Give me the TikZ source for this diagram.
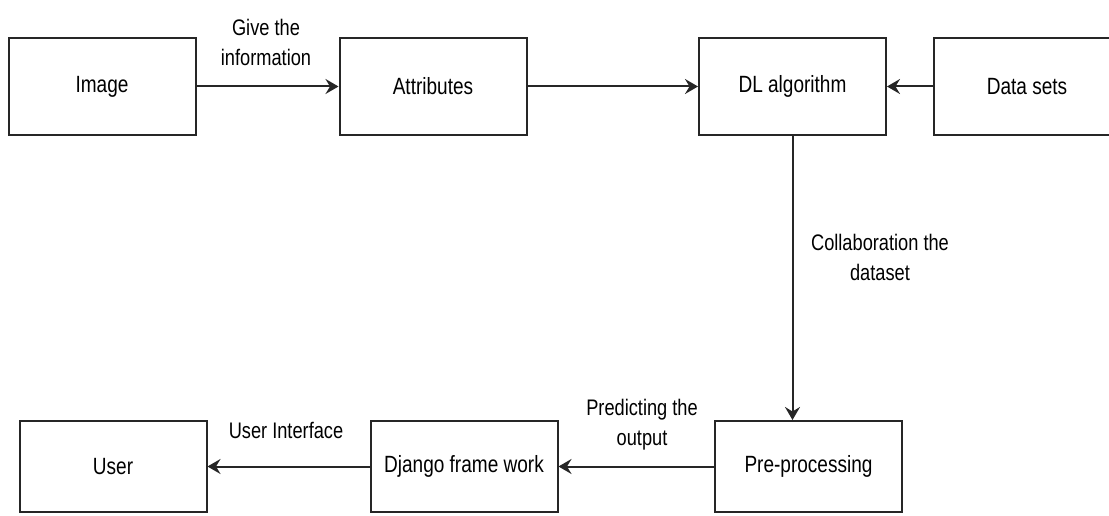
\documentclass[tikz,border=0pt]{standalone}
\usepackage{fontspec}
\setmainfont{Liberation Sans}[FakeStretch=0.81]
\usetikzlibrary{arrows.meta}

\begin{document}
\begin{tikzpicture}[x=1pt, y=-1pt,
    block/.style={draw=black!85, line width=2pt, fill=white, inner sep=0pt,
        minimum width=187pt, minimum height=97pt, font=\fontsize{23.5}{30}\selectfont},
    lowblock/.style={block, minimum height=91pt},
    flow/.style={draw=black!85, line width=2pt,
        -{Stealth[length=13pt, width=15pt, inset=4.5pt]}},
    lbl/.style={align=center, inner sep=0pt, font=\fontsize{22.5}{30}\selectfont}]
\useasboundingbox (0,0) rectangle (1109,516);
\clip (0,0) rectangle (1109,516);

% Top row
\node[block] (image) at (102,86.5) {Image};
\node[block] (attrib) at (433,86.5) {Attributes};
\node[block] (dlalg) at (792.5,86.5) {DL algorithm};
\node[block] (datasets) at (1027,86.5) {Data sets};

% Bottom row
\node[lowblock] (user) at (113,466.5) {User};
\node[lowblock] (django) at (464,466.5) {Django frame work};
\node[lowblock] (preproc) at (808.5,466.5) {Pre-processing};

% Connectors
\draw[flow] (image) -- (attrib);
\draw[flow] (attrib) -- (dlalg);
\draw[flow] (datasets) -- (dlalg);
\draw[flow] (dlalg.south) -- (dlalg.south |- preproc.north);
\draw[flow] (preproc) -- (django);
\draw[flow] (django) -- (user);

% Labels
\node[lbl] (givelbl) at (266,42) {Give the\\information};
\node[lbl] (collablbl) at (880,257) {Collaboration the\\dataset};
\node[lbl] (predlbl) at (642,425) {Predicting the\\output};
\node[lbl] (uilbl) at (286,430) {User Interface};
\end{tikzpicture}
\end{document}
